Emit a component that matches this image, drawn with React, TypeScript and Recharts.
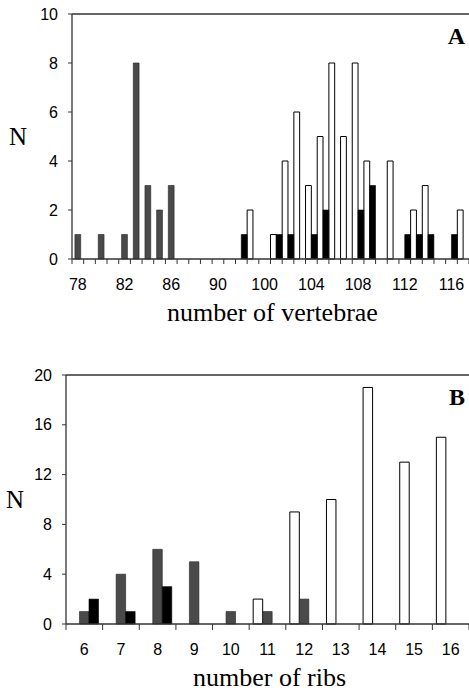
import React from 'react';
import { BarChart, Bar, XAxis, YAxis, ReferenceLine, Label } from 'recharts';

// panel A: vertebral counts (empty classes 91-96 are left out, as in the original)
const vertebrae = [
  78, 79, 80, 81, 82, 83, 84, 85, 86, 87, 88, 89, 90,
  97, 98, 99, 100, 101, 102, 103, 104, 105, 106, 107, 108, 109,
  110, 111, 112, 113, 114, 115, 116, 117,
];
const vertebraeGray = [1, 0, 1, 0, 1, 8, 3, 2, 3, 0, 0, 0, 0, 0, 0, 0, 0, 0, 0, 0, 0, 0, 0, 0, 0, 0, 0, 0, 0, 0, 0, 0, 0, 0];
const vertebraeBlack = [0, 0, 0, 0, 0, 0, 0, 0, 0, 0, 0, 0, 0, 0, 1, 0, 0, 1, 1, 0, 1, 2, 0, 0, 2, 3, 0, 0, 1, 1, 1, 0, 1, 0];
const vertebraeWhite = [0, 0, 0, 0, 0, 0, 0, 0, 0, 0, 0, 0, 0, 0, 0, 2, 0, 1, 4, 6, 3, 5, 8, 5, 8, 4, 0, 4, 0, 2, 3, 0, 0, 2];
const vertebraeTicks = [0, 2, 4, 6, 8, 10];

// panel B: rib counts
const ribs = [6, 7, 8, 9, 10, 11, 12, 13, 14, 15, 16];
const ribsGray = [1, 4, 6, 5, 1, 1, 2, 0, 0, 0, 0];
const ribsBlack = [2, 1, 3, 0, 0, 0, 0, 0, 0, 0, 0];
const ribsWhite = [0, 0, 0, 0, 0, 2, 9, 10, 19, 13, 15];
const ribsTicks = [0, 4, 8, 12, 16, 20];

const SANS = '"Liberation Sans", Arial, sans-serif';
const SERIF = '"Liberation Serif", "Times New Roman", serif';
const AXIS = '#333';
const GRAY = '#4a4a4a';

const W = 469;

const dataA = vertebrae.map((v, i) => ({
  name: v,
  white: vertebraeWhite[i],
  gray: vertebraeGray[i],
  black: vertebraeBlack[i],
}));

const dataB = ribs.map((v, i) => ({
  name: v,
  white: ribsWhite[i],
  gray: ribsGray[i],
  black: ribsBlack[i],
}));

// excel style category ticks: marks between categories, labels every n-th
const makeTick = (band: number, tickLen: number, every: number, last: number) => (props: any) => {
  const { x, y, payload, index } = props;
  const left = x - band / 2;
  return (
    <g>
      <line x1={left} x2={left} y1={y} y2={y + tickLen} stroke={AXIS} strokeWidth={1} />
      {index === last && (
        <line x1={x + band / 2} x2={x + band / 2} y1={y} y2={y + tickLen} stroke={AXIS} strokeWidth={1} />
      )}
      {index % every === 0 && (
        <text x={x} y={y + 31} textAnchor="middle" fontSize={16} fontFamily={SANS} fill="#000">
          {payload.value}
        </text>
      )}
    </g>
  );
};

const Panel = ({
  data, top, height, marginTop, plotH, yWidth, yMax, yTicks, every, tickLen,
  barSize, barGap, title, letter, nX,
}: any) => {
  const plotW = W - yWidth;
  const band = plotW / data.length;
  return (
    <div style={{ position: 'absolute', left: 0, top }}>
      <BarChart
        width={W}
        height={height}
        data={data}
        margin={{ top: marginTop, right: 0, bottom: 0, left: 0 }}
        barSize={barSize}
        barGap={barGap}
      >
        <XAxis
          dataKey="name"
          type="category"
          interval={0}
          height={height - marginTop - plotH}
          tickSize={0}
          tickMargin={0}
          tickLine={false}
          axisLine={{ stroke: AXIS, strokeWidth: 1.3 }}
          tick={makeTick(band, tickLen, every, data.length - 1)}
        >
          <Label
            content={({ viewBox }: any) => (
              <text
                x={viewBox.x + viewBox.width / 2 + 2}
                y={viewBox.y + 62}
                textAnchor="middle"
                fontSize={26}
                fontFamily={SERIF}
                fill="#000"
              >
                {title}
              </text>
            )}
          />
        </XAxis>
        <YAxis
          width={yWidth}
          domain={[0, yMax]}
          ticks={yTicks}
          interval={0}
          tickSize={4}
          tickMargin={10}
          tickLine={{ stroke: AXIS }}
          axisLine={{ stroke: AXIS, strokeWidth: 1.3 }}
          tick={{ fill: '#000', fontSize: 16, fontFamily: SANS }}
        >
          <Label
            content={({ viewBox }: any) => (
              <text
                x={nX}
                y={viewBox.y + viewBox.height / 2 + 8.5}
                textAnchor="middle"
                fontSize={25}
                fontFamily={SERIF}
                fill="#000"
              >
                N
              </text>
            )}
          />
        </YAxis>
        <ReferenceLine
          y={yMax}
          stroke={AXIS}
          strokeWidth={1.3}
          label={{
            content: ({ viewBox }: any) => (
              <text
                x={viewBox.x + viewBox.width - 4}
                y={viewBox.y + 30}
                textAnchor="end"
                fontSize={24}
                fontWeight="bold"
                fontFamily={SERIF}
                fill="#000"
              >
                {letter}
              </text>
            ),
          }}
        />
        <Bar dataKey="white" fill="#fff" stroke="#000" strokeWidth={1} isAnimationActive={false} />
        <Bar dataKey="gray" fill={GRAY} stroke="#222" strokeWidth={0.6} isAnimationActive={false} />
        <Bar dataKey="black" fill="#000" stroke="#000" strokeWidth={0.6} isAnimationActive={false} />
      </BarChart>
    </div>
  );
};

export default function App() {
  return (
    <div style={{ position: 'absolute', left: 0, top: 0, width: W, height: 692, background: '#fff' }}>
      <Panel
        data={dataA}
        top={0}
        height={330}
        marginTop={14}
        plotH={245}
        yWidth={72}
        yMax={10}
        yTicks={vertebraeTicks}
        every={4}
        tickLen={5}
        barSize={5.8}
        barGap={-2.9}
        title="number of vertebrae"
        letter="A"
        nX={18}
      />
      <Panel
        data={dataB}
        top={340}
        height={352}
        marginTop={35}
        plotH={249}
        yWidth={66}
        yMax={20}
        yTicks={ribsTicks}
        every={1}
        tickLen={6}
        barSize={9.5}
        barGap={0}
        title="number of ribs"
        letter="B"
        nX={15}
      />
    </div>
  );
}
